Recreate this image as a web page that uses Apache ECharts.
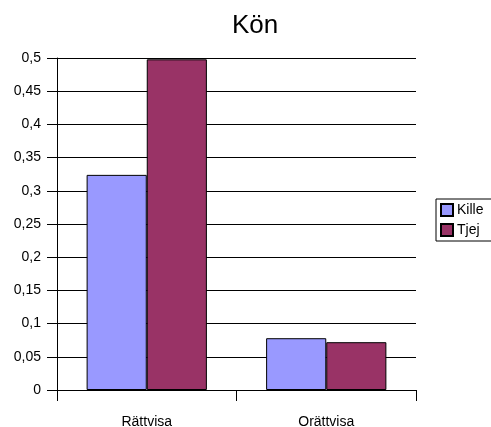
<!DOCTYPE html>
<html>
<head>
<meta charset="utf-8">
<script src="https://cdn.jsdelivr.net/npm/echarts@6/dist/echarts.min.js"></script>
<style>
  html, body { margin: 0; padding: 0; background: #fff; }
  #chart { width: 491px; height: 427px; }
</style>
</head>
<body>
<div id="chart"></div>
<script>
// Andel svar per kategori, uppdelat på kön
const categories = ['Rättvisa', 'Orättvisa'];
const kille = [0.324, 0.078];
const tjej = [0.498, 0.072];
const seriesNames = ['Kille', 'Tjej'];

const font = '"Liberation Sans", Arial, sans-serif';

function fmt(v) {
  return String(parseFloat(v.toFixed(2))).replace('.', ',');
}

const chart = echarts.init(document.getElementById('chart'), null, { renderer: 'canvas' });
chart.setOption({
  animation: false,
  backgroundColor: '#ffffff',
  title: {
    text: 'Kön',
    left: 227,
    top: 8,
    textStyle: { fontFamily: font, fontSize: 26, fontWeight: 'normal', color: '#000' }
  },
  legend: {
    orient: 'vertical',
    left: 436,
    top: 199,
    padding: [4, 12, 4, 4],
    itemGap: 6,
    itemWidth: 12,
    itemHeight: 12,
    borderColor: '#000',
    borderWidth: 1,
    icon: 'rect',
    textStyle: { fontFamily: font, fontSize: 14, color: '#000', padding: [0, 0, 0, -1] },
    data: seriesNames
  },
  grid: { left: 57, right: 75, top: 58, bottom: 37, containLabel: false, outerBoundsMode: 'none' },
  xAxis: {
    type: 'category',
    data: categories,
    axisLine: { show: true, lineStyle: { color: '#000', width: 1 } },
    axisTick: { show: true, inside: false, length: 11, lineStyle: { color: '#000', width: 1 } },
    axisLabel: { margin: 25, fontFamily: font, fontSize: 14, color: '#000' }
  },
  yAxis: {
    type: 'value',
    min: 0,
    max: 0.5,
    interval: 0.05,
    axisLine: { show: true, lineStyle: { color: '#000', width: 1 } },
    axisTick: { show: true, inside: false, length: 10, lineStyle: { color: '#000', width: 1 } },
    splitLine: { show: true, lineStyle: { color: '#000', width: 1 } },
    axisLabel: { margin: 16, fontFamily: font, fontSize: 14, color: '#000', formatter: fmt }
  },
  series: [
    {
      name: seriesNames[0],
      type: 'bar',
      data: kille,
      barGap: '0%',
      barCategoryGap: '33%',
      itemStyle: { color: '#9999FF', borderColor: '#000', borderWidth: 1 }
    },
    {
      name: seriesNames[1],
      type: 'bar',
      data: tjej,
      barGap: '0%',
      barCategoryGap: '33%',
      itemStyle: { color: '#993366', borderColor: '#000', borderWidth: 1 }
    }
  ]
});
</script>
</body>
</html>
